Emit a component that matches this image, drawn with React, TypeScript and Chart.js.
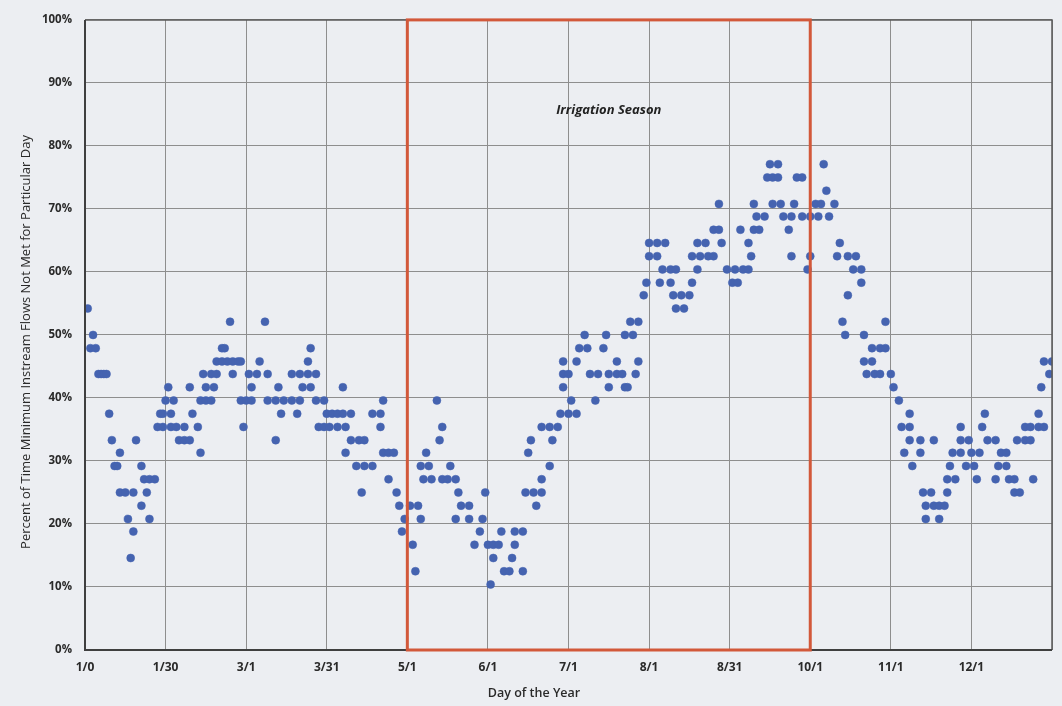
import React, { useEffect, useRef } from 'react';
import { Chart, registerables } from 'chart.js';

Chart.register(...registerables);

// Day of year for each plotted point
const days: number[] = [
  1, 2, 3, 4, 5, 6, 7, 8, 9, 10,
  11, 12, 13, 13, 15, 16, 17, 18, 18, 19,
  21, 21, 22, 23, 24, 24, 26, 27, 28, 29,
  29, 30, 31, 32, 32, 33, 34, 35, 37, 37,
  39, 39, 40, 42, 43, 43, 44, 45, 45, 47,
  47, 48, 49, 49, 51, 51, 52, 53, 54, 55,
  55, 57, 58, 58, 59, 60, 61, 62, 62, 64,
  65, 67, 68, 68, 71, 71, 72, 73, 74, 77,
  77, 79, 80, 80, 81, 83, 83, 84, 84, 86,
  86, 87, 89, 89, 90, 91, 92, 94, 94, 96,
  96, 97, 97, 99, 99, 101, 102, 103, 104, 104,
  107, 107, 110, 110, 111, 111, 113, 113, 115, 116,
  117, 118, 119, 121, 122, 123, 124, 125, 125, 126,
  127, 128, 129, 131, 132, 133, 133, 135, 136, 138,
  138, 139, 140, 143, 143, 145, 147, 148, 149, 150,
  151, 152, 152, 154, 155, 156, 158, 159, 160, 160,
  163, 163, 164, 165, 166, 167, 168, 170, 170, 170,
  173, 173, 174, 176, 177, 178, 178, 178, 180, 180,
  181, 183, 183, 184, 186, 187, 188, 190, 191, 193,
  194, 195, 195, 198, 198, 200, 201, 201, 202, 203,
  204, 205, 206, 206, 208, 209, 210, 210, 213, 213,
  214, 215, 216, 218, 218, 219, 220, 220, 222, 223,
  225, 226, 226, 228, 228, 229, 231, 232, 234, 234,
  236, 236, 237, 239, 241, 242, 243, 244, 245, 247,
  247, 248, 249, 249, 250, 251, 253, 254, 255, 256,
  256, 258, 258, 259, 260, 262, 263, 263, 264, 265,
  267, 267, 269, 270, 270, 272, 273, 274, 275, 276,
  277, 279, 280, 281, 282, 283, 284, 284, 286, 287,
  289, 289, 290, 290, 291, 293, 293, 294, 296, 296,
  298, 298, 300, 301, 303, 304, 305, 307, 307, 307,
  308, 311, 311, 312, 313, 313, 315, 316, 316, 318,
  318, 320, 321, 321, 322, 323, 324, 326, 326, 326,
  328, 329, 330, 331, 332, 333, 334, 335, 336, 339,
  339, 340, 341, 343, 343, 344, 346, 346, 347, 348,
  350, 350, 352, 352, 353, 355, 355, 356, 357, 357,
  359, 360,
];

// Percent of time minimum instream flows not met (%)
const percentNotMet: number[] = [
  54.2, 47.9, 50.0, 47.9, 43.8, 43.8, 43.8, 43.8, 37.5, 33.3,
  29.2, 29.2, 31.3, 25.0, 25.0, 20.8, 14.6, 18.8, 25.0, 33.3,
  29.2, 22.9, 27.1, 25.0, 27.1, 20.8, 27.1, 35.4, 37.5, 37.5,
  35.4, 39.6, 41.7, 37.5, 35.4, 39.6, 35.4, 33.3, 35.4, 33.3,
  41.7, 33.3, 37.5, 35.4, 31.3, 39.6, 43.8, 39.6, 41.7, 39.6,
  43.8, 41.7, 43.8, 45.8, 45.8, 47.9, 47.9, 45.8, 52.1, 43.8,
  45.8, 45.8, 39.6, 45.8, 35.4, 39.6, 43.8, 39.6, 41.7, 43.8,
  45.8, 52.1, 43.8, 39.6, 39.6, 33.3, 41.7, 37.5, 39.6, 43.8,
  39.6, 37.5, 43.8, 39.6, 41.7, 45.8, 43.8, 47.9, 41.7, 43.8,
  39.6, 35.4, 39.6, 35.4, 37.5, 35.4, 37.5, 37.5, 35.4, 41.7,
  37.5, 35.4, 31.3, 37.5, 33.3, 29.2, 33.3, 25.0, 33.3, 29.2,
  37.5, 29.2, 37.5, 35.4, 39.6, 31.3, 31.3, 27.1, 31.3, 25.0,
  22.9, 18.8, 20.8, 22.9, 16.7, 12.5, 22.9, 20.8, 29.2, 27.1,
  31.3, 29.2, 27.1, 39.6, 33.3, 35.4, 27.1, 27.1, 29.2, 27.1,
  20.8, 25.0, 22.9, 22.9, 20.8, 16.7, 18.8, 20.8, 25.0, 16.7,
  10.4, 16.7, 14.6, 16.7, 18.8, 12.5, 12.5, 14.6, 18.8, 16.7,
  18.8, 12.5, 25.0, 31.3, 33.3, 25.0, 22.9, 25.0, 27.1, 35.4,
  29.2, 35.4, 33.3, 35.4, 37.5, 41.7, 43.8, 45.8, 37.5, 43.8,
  39.6, 37.5, 45.8, 47.9, 50.0, 47.9, 43.8, 39.6, 43.8, 47.9,
  50.0, 41.7, 43.8, 43.8, 45.8, 43.8, 41.7, 50.0, 41.7, 52.1,
  50.0, 43.8, 45.8, 52.1, 56.3, 58.3, 62.5, 64.6, 62.5, 64.6,
  58.3, 60.4, 64.6, 58.3, 60.4, 56.3, 60.4, 54.2, 56.3, 54.2,
  56.3, 58.3, 62.5, 60.4, 64.6, 62.5, 64.6, 62.5, 62.5, 66.7,
  70.8, 66.7, 64.6, 60.4, 58.3, 60.4, 58.3, 66.7, 60.4, 60.4,
  64.6, 62.5, 66.7, 70.8, 68.8, 66.7, 68.8, 75.0, 77.1, 70.8,
  75.0, 75.0, 77.1, 70.8, 68.8, 66.7, 68.8, 62.5, 70.8, 75.0,
  75.0, 68.8, 60.4, 62.5, 68.8, 70.8, 68.8, 70.8, 77.1, 72.9,
  68.8, 70.8, 62.5, 64.6, 52.1, 50.0, 56.3, 62.5, 60.4, 62.5,
  60.4, 58.3, 50.0, 45.8, 43.8, 45.8, 47.9, 43.8, 47.9, 43.8,
  47.9, 52.1, 43.8, 41.7, 39.6, 35.4, 31.3, 37.5, 35.4, 33.3,
  29.2, 33.3, 31.3, 25.0, 22.9, 20.8, 25.0, 22.9, 33.3, 22.9,
  20.8, 22.9, 25.0, 27.1, 29.2, 31.3, 27.1, 31.3, 33.3, 35.4,
  29.2, 33.3, 31.3, 29.2, 27.1, 31.3, 35.4, 37.5, 33.3, 33.3,
  27.1, 29.2, 31.3, 29.2, 31.3, 27.1, 27.1, 25.0, 33.3, 25.0,
  33.3, 35.4, 33.3, 35.4, 27.1, 37.5, 35.4, 41.7, 35.4, 45.8,
  43.8, 45.8,
];

const xTickValues: number[] = [0, 30, 60, 90, 120, 150, 180, 210, 240, 270, 300, 330, 360];
const xTickLabels: string[] = ['1/0', '1/30', '3/1', '3/31', '5/1', '6/1', '7/1', '8/1', '8/31', '10/1', '11/1', '12/1', ''];
const yTickValues: number[] = [0, 10, 20, 30, 40, 50, 60, 70, 80, 90, 100];

const seasonStartDay = 120;
const seasonEndDay = 270;
const seasonLabel = 'Irrigation Season';
const seasonLabelDay = 195;
const seasonLabelPct = 85.7;

const xTitle = 'Day of the Year';
const yTitle = 'Percent of Time Minimum Instream Flows Not Met for Particular Day';

const FONT = '"Open Sans", "Noto Sans", Arial, sans-serif';

export default function App() {
  const canvasRef = useRef<HTMLCanvasElement | null>(null);

  useEffect(() => {
    const canvas = canvasRef.current;
    if (!canvas) return;

    const bgPlugin = {
      id: 'bgFill',
      beforeDraw(chart: any) {
        const ctx = chart.ctx;
        ctx.save();
        ctx.fillStyle = '#eceef2';
        ctx.fillRect(0, 0, chart.width, chart.height);
        ctx.restore();
      },
    };

    const overlayPlugin = {
      id: 'overlay',
      afterDatasetsDraw(chart: any) {
        const { ctx, chartArea, scales } = chart;
        const xs = scales.x;
        const ys = scales.y;
        ctx.save();
        // plot border
        ctx.strokeStyle = '#5a5a5a';
        ctx.lineWidth = 1.5;
        ctx.beginPath();
        ctx.moveTo(chartArea.left, chartArea.top);
        ctx.lineTo(chartArea.right, chartArea.top);
        ctx.lineTo(chartArea.right, chartArea.bottom);
        ctx.stroke();
        ctx.strokeStyle = '#3f3f3f';
        ctx.lineWidth = 2;
        ctx.beginPath();
        ctx.moveTo(chartArea.left, chartArea.top);
        ctx.lineTo(chartArea.left, chartArea.bottom);
        ctx.lineTo(chartArea.right, chartArea.bottom);
        ctx.stroke();

        // irrigation season box
        const x1 = xs.getPixelForValue(seasonStartDay);
        const x2 = xs.getPixelForValue(seasonEndDay);
        const y1 = ys.getPixelForValue(100);
        const y2 = ys.getPixelForValue(0);
        ctx.strokeStyle = '#d2583a';
        ctx.lineWidth = 3;
        ctx.strokeRect(x1, y1, x2 - x1, y2 - y1);

        // label
        ctx.fillStyle = '#222';
        ctx.font = `italic bold 13px ${FONT}`;
        ctx.textAlign = 'center';
        ctx.textBaseline = 'middle';
        ctx.fillText(seasonLabel, xs.getPixelForValue(seasonLabelDay), ys.getPixelForValue(seasonLabelPct));

        // axis titles
        ctx.fillStyle = '#2a2a2a';
        ctx.font = `600 12.5px ${FONT}`;
        ctx.fillText(xTitle, 534, 693);
        ctx.save();
        ctx.translate(26, 342);
        ctx.rotate(-Math.PI / 2);
        ctx.font = `500 13px ${FONT}`;
        ctx.fillText(yTitle, 0, 0);
        ctx.restore();
        ctx.restore();
      },
    };

    const chart = new Chart(canvas, {
      type: 'scatter',
      data: {
        datasets: [
          {
            data: days.map((d, i) => ({ x: d, y: percentNotMet[i] })),
            backgroundColor: '#4563b0',
            borderColor: '#4563b0',
            borderWidth: 0.5,
            pointRadius: 4,
            pointHoverRadius: 4,
          },
        ],
      },
      options: {
        animation: false,
        responsive: false,
        maintainAspectRatio: false,
        layout: { padding: { left: 0, right: 10, top: 17, bottom: 0 } },
        plugins: {
          legend: { display: false },
          tooltip: { enabled: false },
        },
        scales: {
          x: {
            type: 'linear',
            min: 0,
            max: 360,
            afterBuildTicks: (scale: any) => {
              scale.ticks = xTickValues.map((v) => ({ value: v }));
            },
            afterFit: (scale: any) => {
              scale.height = 56;
            },
            ticks: {
              autoSkip: false,
              maxRotation: 0,
              padding: 10,
              color: '#2a2a2a',
              font: { family: FONT, weight: 'bold', size: 12 },
              callback: (value: any) => {
                const idx = xTickValues.indexOf(Number(value));
                return idx >= 0 ? xTickLabels[idx] : '';
              },
            },
            grid: { color: '#8e8e8e', lineWidth: 1, drawTicks: false },
            border: { display: false },
          },
          y: {
            min: 0,
            max: 100,
            afterBuildTicks: (scale: any) => {
              scale.ticks = yTickValues.map((v) => ({ value: v }));
            },
            afterFit: (scale: any) => {
              scale.width = 85;
            },
            ticks: {
              padding: 13,
              color: '#2a2a2a',
              font: { family: FONT, weight: 'bold', size: 11.5 },
              callback: (value: any) => `${value}%`,
            },
            grid: { color: '#8e8e8e', lineWidth: 1, drawTicks: false },
            border: { display: false },
          },
        },
      } as any,
      plugins: [bgPlugin, overlayPlugin],
    });

    return () => {
      chart.destroy();
    };
  }, []);

  return (
    <div style={{ position: 'absolute', left: 0, top: 0, width: 1062, height: 706 }}>
      <canvas ref={canvasRef} width={1062} height={706} style={{ display: 'block', width: 1062, height: 706 }} />
    </div>
  );
}
